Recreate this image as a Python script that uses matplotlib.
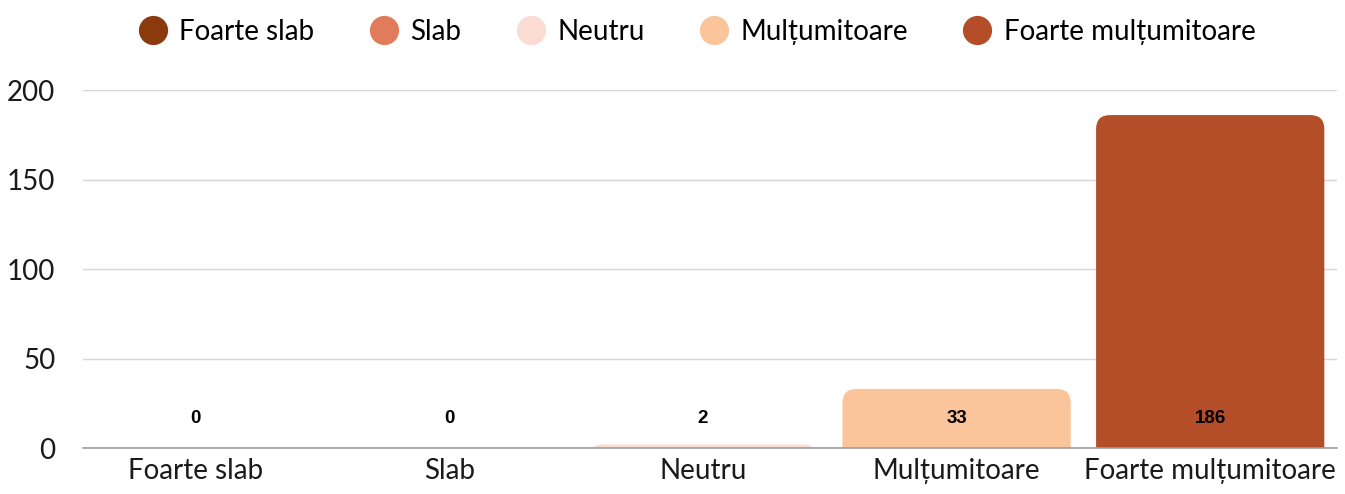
import matplotlib
matplotlib.use("Agg")
import matplotlib.pyplot as plt
from matplotlib.patches import FancyBboxPatch
from matplotlib.lines import Line2D

categories = ["Foarte slab", "Slab", "Neutru", "Mulțumitoare", "Foarte mulțumitoare"]
values = [0, 0, 2, 33, 186]
colors = ["#8B3A0E", "#E07B5B", "#FADCD2", "#FAC59B", "#B34E29"]
yticks = [0, 50, 100, 150, 200]

plt.rcParams['font.family'] = ['Lato', 'DejaVu Sans']

fig = plt.figure(figsize=(13.45, 4.94), dpi=100)
ax = fig.add_axes([83 / 1345, 0.0931, (1337 - 83) / 1345, 0.7247])

x = list(range(len(categories)))
bars = ax.bar(x, values, width=0.9, color=colors)
ax.set_xlim(-0.445, len(categories) - 0.5)
ax.set_ylim(0, 200)

# rounded top corners
xr = ax.get_xlim()
px_per_x = ax.get_position().width * 1345 / (xr[1] - xr[0])
px_per_y = ax.get_position().height * 494 / 200.0
r_px = 14
rx = r_px / px_per_x
aspect = px_per_x / px_per_y
ry = rx * aspect
for b in bars:
    h = b.get_height()
    if h <= 0:
        continue
    b.set_visible(False)
    p = FancyBboxPatch((b.get_x() + rx, -ry),
                       b.get_width() - 2 * rx,
                       h,
                       boxstyle=f"round,pad={rx},rounding_size={rx}",
                       mutation_aspect=aspect,
                       facecolor=b.get_facecolor(), edgecolor="none",
                       clip_on=True, zorder=2)
    ax.add_patch(p)
    p.set_clip_path(ax.patch)

for xi, v in zip(x, values):
    ax.annotate(str(v), (xi, 0), xytext=(0, 21.5), textcoords="offset points",
                ha="center", va="center", fontsize=13.5, fontweight="bold",
                family=["Liberation Sans", "DejaVu Sans"], color="black", zorder=5)

ax.set_yticks(yticks)
ax.set_xticks(x)
ax.set_xticklabels(categories, fontsize=20)
ax.tick_params(axis="y", labelsize=20, length=0, pad=20)
ax.tick_params(axis="x", length=0, pad=7)
for lab in ax.get_yticklabels() + ax.get_xticklabels():
    lab.set_color("#1a1a1a")
ax.grid(axis="y", color="#d6d6d6", linewidth=1.0, zorder=0)
ax.set_axisbelow(True)
for s in ["top", "right", "left"]:
    ax.spines[s].set_visible(False)
ax.spines["bottom"].set_color("#9e9e9e")
ax.spines["bottom"].set_linewidth(1.2)
ax.spines["bottom"].set_zorder(3)

handles = [Line2D([], [], marker="o", linestyle="none", markersize=20,
                  markerfacecolor=c, markeredgecolor=c) for c in colors]
fig.legend(handles, categories, loc="center", bbox_to_anchor=(0.5175, 0.935),
           ncol=5, frameon=False, fontsize=20, handletextpad=0.35,
           columnspacing=1.9, handlelength=1.2)

fig.savefig("out.png", dpi=100, facecolor="white")
